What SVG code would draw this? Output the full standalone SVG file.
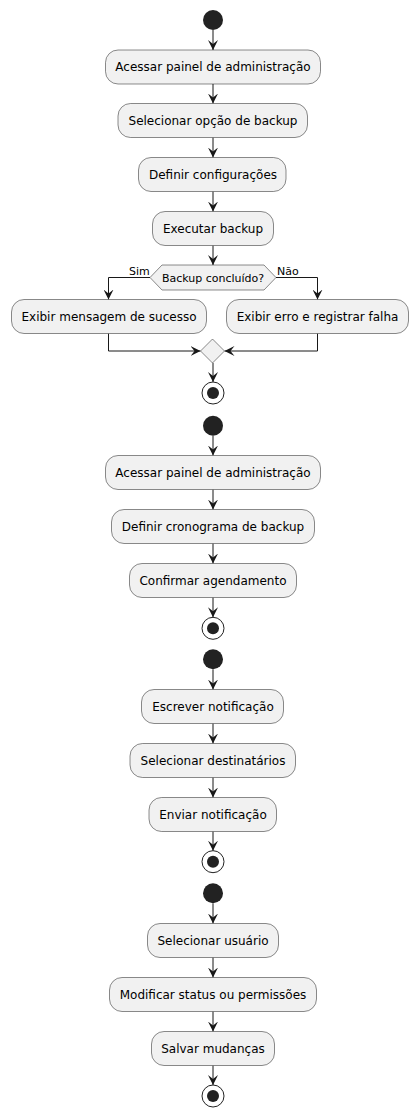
<svg xmlns="http://www.w3.org/2000/svg" width="418" height="1117" viewBox="0 0 418 1117">
<style>
.act{fill:#F1F1F1;stroke:#181818;stroke-width:0.5}
.t{font-family:"DejaVu Sans",sans-serif;font-size:12px;fill:#000;text-anchor:middle}
.ts{font-family:"DejaVu Sans",sans-serif;font-size:11px;fill:#000}
.start{fill:#222222}
.endo{fill:none;stroke:#222222;stroke-width:1}
.endi{fill:#222222}
.c{fill:none;stroke:#181818;stroke-width:1;marker-end:url(#ah)}
</style>
<defs>
<marker id="ah" viewBox="0 0 10 10" refX="10" refY="5" markerWidth="10" markerHeight="10" markerUnits="userSpaceOnUse" orient="auto">
<path d="M0,0 L10,5 L0,10 L4,5 Z" fill="#181818"/>
</marker>
</defs>
<rect width="418" height="1117" fill="#FFFFFF"/>
<g id="connectors">
<path class="c" d="M213,30 V50"/>
<path class="c" d="M213,84 V103.5"/>
<path class="c" d="M213,137.5 V157.5"/>
<path class="c" d="M213,191.5 V211.5"/>
<path class="c" d="M213,245.5 V265"/>
<path class="c" d="M150,277.5 H108.5 V299.5"/>
<path class="c" d="M276,277.5 H317.5 V299.5"/>
<path class="c" d="M108.5,333.5 V351 H200.5"/>
<path class="c" d="M317.5,333.5 V351 H224.5"/>
<path class="c" d="M213,363 V382"/>
<path class="c" d="M213,435.7 V455.5"/>
<path class="c" d="M213,489.5 V509.5"/>
<path class="c" d="M213,543.5 V563.5"/>
<path class="c" d="M213,597.5 V617.3"/>
<path class="c" d="M213,669.3 V689.5"/>
<path class="c" d="M213,723.5 V743.5"/>
<path class="c" d="M213,777.5 V797.5"/>
<path class="c" d="M213,831.5 V850.7"/>
<path class="c" d="M213,903.3 V923.5"/>
<path class="c" d="M213,957.5 V977.5"/>
<path class="c" d="M213,1011.5 V1031.5"/>
<path class="c" d="M213,1065.5 V1085"/>
<text class="ts" x="129" y="275">Sim</text>
<text class="ts" x="277" y="275">Não</text>
</g>
<g id="start1"><circle class="start" cx="213" cy="20" r="10"/></g>
<g id="a1"><rect class="act" x="105.5" y="50" width="215" height="34" rx="12.5"/><text class="t" x="213" y="71.3">Acessar painel de administração</text></g>
<g id="a2"><rect class="act" x="118" y="103.5" width="189.5" height="34" rx="12.5"/><text class="t" x="213" y="124.8">Selecionar opção de backup</text></g>
<g id="a3"><rect class="act" x="138.5" y="157.5" width="147.5" height="34" rx="12.5"/><text class="t" x="213" y="178.8">Definir configurações</text></g>
<g id="a4"><rect class="act" x="152.5" y="211.5" width="121" height="34" rx="12.5"/><text class="t" x="213" y="232.8">Executar backup</text></g>
<g id="d1"><polygon class="act" points="150,277.5 162,265 264,265 276,277.5 264,290 162,290"/><text class="ts" x="213" y="281.5" text-anchor="middle">Backup concluído?</text></g>
<g id="a5"><rect class="act" x="11.5" y="299.5" width="195" height="34" rx="12.5"/><text class="t" x="109" y="320.8">Exibir mensagem de sucesso</text></g>
<g id="a6"><rect class="act" x="226.5" y="299.5" width="182" height="34" rx="12.5"/><text class="t" x="317.5" y="320.8">Exibir erro e registrar falha</text></g>
<g id="m1"><polygon class="act" points="200.5,351 212.5,339 224.5,351 212.5,363"/></g>
<g id="end1"><circle class="endo" cx="213" cy="393" r="11"/><circle class="endi" cx="213" cy="393" r="6"/></g>

<g id="start2"><circle class="start" cx="213" cy="425.7" r="10"/></g>
<g id="b1"><rect class="act" x="105.5" y="455.5" width="215" height="34" rx="12.5"/><text class="t" x="213" y="476.8">Acessar painel de administração</text></g>
<g id="b2"><rect class="act" x="111.5" y="509.5" width="203" height="34" rx="12.5"/><text class="t" x="213" y="530.8">Definir cronograma de backup</text></g>
<g id="b3"><rect class="act" x="129.5" y="563.5" width="167" height="34" rx="12.5"/><text class="t" x="213" y="584.8">Confirmar agendamento</text></g>
<g id="end2"><circle class="endo" cx="213" cy="628.3" r="11"/><circle class="endi" cx="213" cy="628.3" r="6"/></g>

<g id="start3"><circle class="start" cx="213" cy="659.3" r="10"/></g>
<g id="c1"><rect class="act" x="141.5" y="689.5" width="142" height="34" rx="12.5"/><text class="t" x="213" y="710.8">Escrever notificação</text></g>
<g id="c2"><rect class="act" x="130" y="743.5" width="165.5" height="34" rx="12.5"/><text class="t" x="213" y="764.8">Selecionar destinatários</text></g>
<g id="c3"><rect class="act" x="149" y="797.5" width="127.5" height="34" rx="12.5"/><text class="t" x="213" y="818.8">Enviar notificação</text></g>
<g id="end3"><circle class="endo" cx="213" cy="861.7" r="11"/><circle class="endi" cx="213" cy="861.7" r="6"/></g>

<g id="start4"><circle class="start" cx="213" cy="893.3" r="10"/></g>
<g id="e1"><rect class="act" x="147.5" y="923.5" width="131" height="34" rx="12.5"/><text class="t" x="213" y="944.8">Selecionar usuário</text></g>
<g id="e2"><rect class="act" x="109.5" y="977.5" width="207" height="34" rx="12.5"/><text class="t" x="213" y="998.8">Modificar status ou permissões</text></g>
<g id="e3"><rect class="act" x="151.5" y="1031.5" width="123" height="34" rx="12.5"/><text class="t" x="213" y="1052.8">Salvar mudanças</text></g>
<g id="end4"><circle class="endo" cx="213" cy="1096" r="11"/><circle class="endi" cx="213" cy="1096" r="6"/></g>
</svg>
